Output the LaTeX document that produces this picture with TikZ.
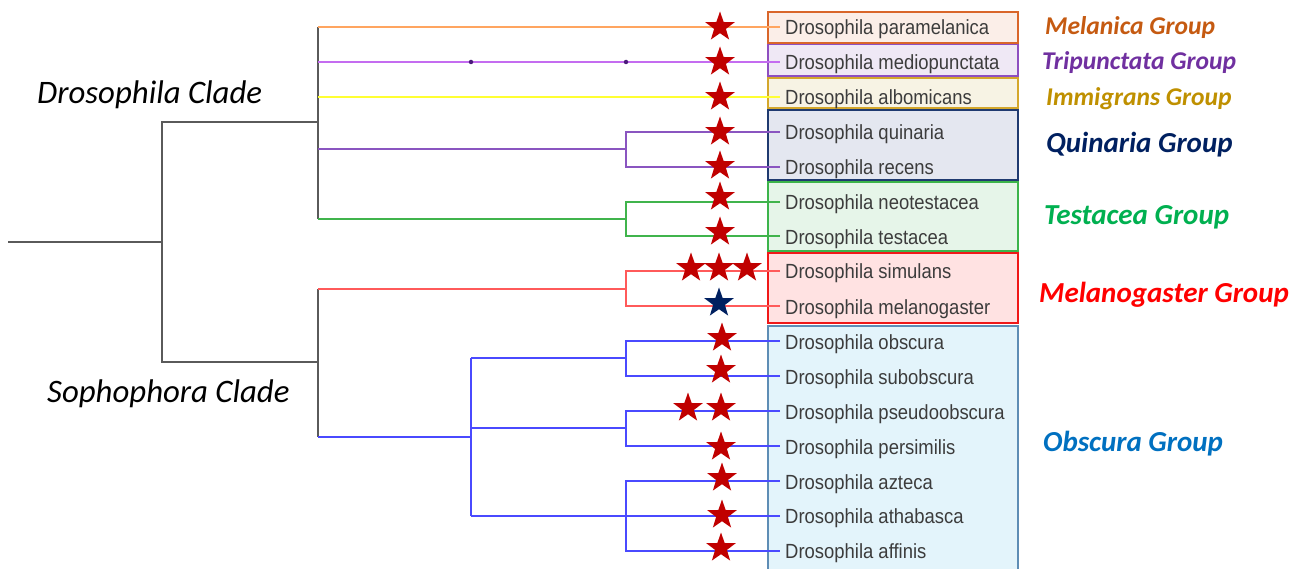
\documentclass[tikz,border=0pt]{standalone}
\usepackage{fontspec}
\setmainfont{Liberation Sans}
\newfontfamily\spfont[FakeStretch=0.9]{Liberation Sans}
\newfontfamily\grpfont{Carlito}
\usetikzlibrary{shapes.geometric}
\definecolor{treegray}{HTML}{5A5A5A}
\definecolor{spgray}{HTML}{3C3C3C}
\definecolor{brOrange}{HTML}{FFA560}
\definecolor{brViolet}{HTML}{C46CF0}
\definecolor{brYellow}{HTML}{FFFF33}
\definecolor{brPurple}{HTML}{8A55C0}
\definecolor{brGreen}{HTML}{40B44C}
\definecolor{brRed}{HTML}{FF5A5A}
\definecolor{brBlue}{HTML}{4A4AFF}
\definecolor{dotPurple}{HTML}{4B1A7A}
\definecolor{starRed}{HTML}{C00000}
\definecolor{starNavy}{HTML}{002060}
\definecolor{gMelanica}{HTML}{C55A11}
\definecolor{gTripunctata}{HTML}{7030A0}
\definecolor{gImmigrans}{HTML}{BF9000}
\definecolor{gQuinaria}{HTML}{002060}
\definecolor{gTestacea}{HTML}{00B050}
\definecolor{gMelanogaster}{HTML}{FF0000}
\definecolor{gObscura}{HTML}{0070C0}
\definecolor{bMelanicaD}{HTML}{D9662A}
\definecolor{bMelanicaF}{HTML}{FBEEE8}
\definecolor{bTripD}{HTML}{8E4FC0}
\definecolor{bTripF}{HTML}{EFE8F5}
\definecolor{bImmD}{HTML}{D4A72C}
\definecolor{bImmF}{HTML}{F7F3E4}
\definecolor{bQuinD}{HTML}{1F3A70}
\definecolor{bQuinF}{HTML}{E4E7F0}
\definecolor{bTestD}{HTML}{3CB44B}
\definecolor{bTestF}{HTML}{E6F5E9}
\definecolor{bMelD}{HTML}{F01818}
\definecolor{bMelF}{HTML}{FFE2E2}
\definecolor{bObsD}{HTML}{5E8DB5}
\definecolor{bObsF}{HTML}{E3F4FB}
\tikzset{
  branch/.style={line width=1.7pt},
  sp/.style={anchor=west, inner sep=0pt, text=spgray, yshift=-2pt, font=\spfont\fontsize{20.5}{22}\selectfont},
  grpS/.style={anchor=west, inner sep=0pt, yshift=-2pt, font=\grpfont\bfseries\itshape\fontsize{25.6}{28}\selectfont},
  grpL/.style={anchor=west, inner sep=0pt, yshift=-2pt, font=\grpfont\bfseries\itshape\fontsize{29}{32}\selectfont},
  clade/.style={anchor=west, inner sep=0pt, text=black, yshift=-2pt, font=\grpfont\itshape\fontsize{32.8}{36}\selectfont},
  starmark/.style={star, star points=5, star point ratio=2.5, draw=none, inner sep=0pt, minimum size=31pt},
  redstar/.style={starmark, fill=starRed},
  navystar/.style={starmark, fill=starNavy},
  grpbox/.style={line width=1.5pt},
  tdot/.style={circle, fill=dotPurple, inner sep=0pt, minimum size=4.5pt}
}
\begin{document}
\begin{tikzpicture}[x=1pt,y=-1pt]
\useasboundingbox (0,0) rectangle (1306,569);
\clip (0,0) rectangle (1306,569);
% group boxes
\draw[grpbox, draw=bMelanicaD, fill=bMelanicaF] (768,12) rectangle (1018,43);
\draw[grpbox, draw=bTripD, fill=bTripF] (768,44.5) rectangle (1018,76);
\draw[grpbox, draw=bImmD, fill=bImmF] (768,78) rectangle (1018,108);
\draw[grpbox, draw=bQuinD, fill=bQuinF] (768,110) rectangle (1018,180);
\draw[grpbox, draw=bTestD, fill=bTestF] (768,182) rectangle (1018,251);
\draw[grpbox, draw=bMelD, fill=bMelF] (768,253) rectangle (1018,323);
\draw[grpbox, draw=bObsD, fill=bObsF] (768,326) rectangle (1018,575);
% tips
\foreach \i/\y in {1/27,2/62,3/97,4/132,5/167,6/202,7/236,8/271,9/306,10/341,11/376,12/411,13/446,14/481,15/516,16/551}{
  \coordinate (t\i) at (780,\y);
}
% internal nodes
\coordinate (r0) at (8,242);
\coordinate (r1) at (162,242);
\coordinate (dA) at (162,122);
\coordinate (sA) at (162,362);
\coordinate (dB) at (318,122);
\coordinate (sB) at (318,362);
\coordinate (d1) at (318,27);
\coordinate (d2) at (318,62);
\coordinate (d3) at (318,97);
\coordinate (d4) at (318,149);
\coordinate (d5) at (318,219);
\coordinate (qn) at (626,149);
\coordinate (tn) at (626,219);
\coordinate (s1) at (318,289);
\coordinate (s2) at (318,437);
\coordinate (mn) at (626,289);
\coordinate (ob) at (471,437);
\coordinate (ob1) at (471,358);
\coordinate (ob2) at (471,428);
\coordinate (ob3) at (471,516);
\coordinate (on1) at (626,358);
\coordinate (on2) at (626,428);
\coordinate (dm1) at (471,62);
\coordinate (dm2) at (626,62);
% gray backbone
\draw[branch, treegray] (r0) -- (r1);
\draw[branch, treegray] (dB) -- (dA) -- (sA) -- (sB);
\draw[branch, treegray] (d1) -- (d5);
\draw[branch, treegray] (s1) -- (s2);
% Drosophila clade branches
\draw[branch, brOrange] (d1) -- (t1);
\draw[branch, brViolet] (d2) -- (t2);
\node[tdot] (dot1) at (dm1) {};
\node[tdot] (dot2) at (dm2) {};
\draw[branch, brYellow] (d3) -- (t3);
\draw[branch, brPurple] (d4) -- (qn);
\draw[branch, brPurple] (t4) -| (qn) |- (t5);
\draw[branch, brGreen] (d5) -- (tn);
\draw[branch, brGreen] (t6) -| (tn) |- (t7);
% Sophophora clade branches
\draw[branch, brRed] (s1) -- (mn);
\draw[branch, brRed] (t8) -| (mn) |- (t9);
\draw[branch, brBlue] (s2) -- (ob);
\draw[branch, brBlue] (ob1) -- (ob3);
\draw[branch, brBlue] (ob1) -- (on1);
\draw[branch, brBlue] (t10) -| (on1) |- (t11);
\draw[branch, brBlue] (ob2) -- (on2);
\draw[branch, brBlue] (t12) -| (on2) |- (t13);
\draw[branch, brBlue] (ob3) -- (t15);
\draw[branch, brBlue] (t14) -| (626,516) |- (t16);
% stars
\node[redstar] (st1) at (720,27) {};
\node[redstar] (st2) at (720,62) {};
\node[redstar] (st3) at (720,97) {};
\node[redstar] (st4) at (720,132) {};
\node[redstar] (st5) at (720,166) {};
\node[redstar] (st6) at (720,197) {};
\node[redstar] (st7) at (720,232) {};
\node[redstar] (st8a) at (691,268) {};
\node[redstar] (st8b) at (719,268) {};
\node[redstar] (st8c) at (747,268) {};
\node[navystar] (st9) at (719,303) {};
\node[redstar] (st10) at (722,338) {};
\node[redstar] (st11) at (721,370) {};
\node[redstar] (st12a) at (688,408) {};
\node[redstar] (st12b) at (721,408) {};
\node[redstar] (st13) at (721,447) {};
\node[redstar] (st14) at (722,478) {};
\node[redstar] (st15) at (722,515) {};
\node[redstar] (st16) at (721,548) {};
% species labels
\node[sp] (n1) at (785,27) {Drosophila paramelanica};
\node[sp] (n2) at (785,62) {Drosophila mediopunctata};
\node[sp] (n3) at (785,97) {Drosophila albomicans};
\node[sp] (n4) at (785,132) {Drosophila quinaria};
\node[sp] (n5) at (785,167) {Drosophila recens};
\node[sp] (n6) at (785,202) {Drosophila neotestacea};
\node[sp] (n7) at (785,237) {Drosophila testacea};
\node[sp] (n8) at (785,271) {Drosophila simulans};
\node[sp] (n9) at (785,307) {Drosophila melanogaster};
\node[sp] (n10) at (785,342) {Drosophila obscura};
\node[sp] (n11) at (785,377) {Drosophila subobscura};
\node[sp] (n12) at (785,412) {Drosophila pseudoobscura};
\node[sp] (n13) at (785,447) {Drosophila persimilis};
\node[sp] (n14) at (785,482) {Drosophila azteca};
\node[sp] (n15) at (785,516) {Drosophila athabasca};
\node[sp] (n16) at (785,551) {Drosophila affinis};
% group labels
\node[grpS, text=gMelanica] (g1) at (1045,26) {Melanica Group};
\node[grpS, text=gTripunctata] (g2) at (1042,61) {Tripunctata Group};
\node[grpS, text=gImmigrans] (g3) at (1046,97) {Immigrans Group};
\node[grpL, text=gQuinaria] (g4) at (1046,143) {Quinaria Group};
\node[grpL, text=gTestacea] (g5) at (1044,215) {Testacea Group};
\node[grpL, text=gMelanogaster] (g6) at (1039,293) {Melanogaster Group};
\node[grpL, text=gObscura] (g7) at (1043,442) {Obscura Group};
% clade labels
\node[clade] (c1) at (37,93) {Drosophila Clade};
\node[clade] (c2) at (47,392) {Sophophora Clade};
\end{tikzpicture}
\end{document}
